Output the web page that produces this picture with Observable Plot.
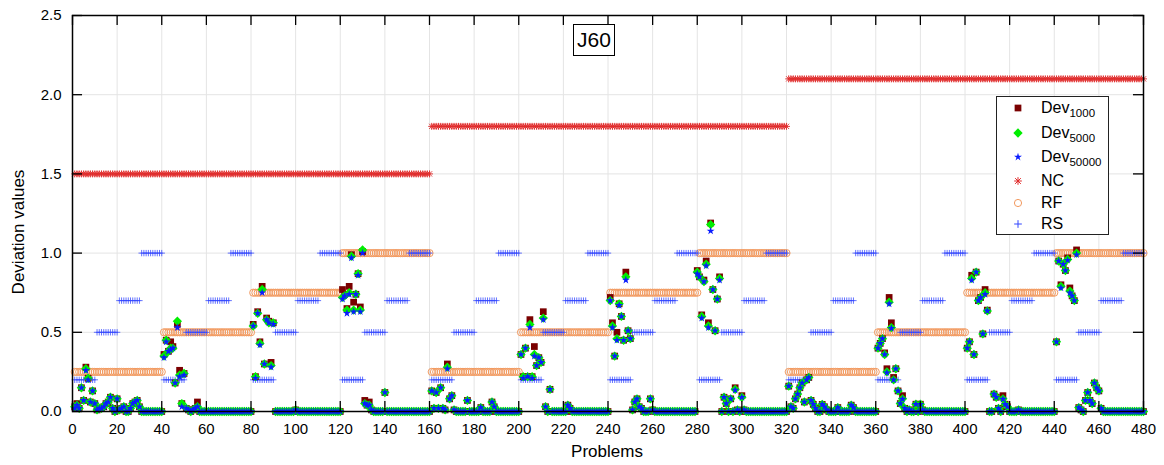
<!DOCTYPE html>
<html><head><meta charset="utf-8">
<script src="https://cdn.jsdelivr.net/npm/d3@7"></script>
<script src="https://cdn.jsdelivr.net/npm/@observablehq/plot@0.6"></script>
<style>
body{margin:0;background:#fff;font-family:"Liberation Sans",Arial,sans-serif;}
#wrap{position:relative;width:1164px;height:465px;overflow:hidden;}
#wrap svg{display:block;}
.ylab{position:absolute;left:19px;top:232px;transform:translate(-50%,-50%) rotate(-90deg);font-size:17px;white-space:nowrap;color:#000;}
.xlab{position:absolute;left:607px;top:452px;transform:translate(-50%,-50%);font-size:17px;color:#000;}
.title{position:absolute;left:573px;top:24px;width:40px;height:30px;border:1px solid #000;background:#fff;font-size:21px;line-height:30px;text-align:center;}
.legend{position:absolute;left:996px;top:96px;width:111px;height:137px;border:1px solid #222;background:#fff;}
.legend .row{position:absolute;left:0;height:22px;width:111px;}
.legend .row svg{position:absolute;left:11px;top:1px;}
.legend .row span{position:absolute;left:44px;top:0;font-size:16px;line-height:22px;white-space:nowrap;}
.legend sub{font-size:11.5px;vertical-align:-4px;line-height:0;}
</style></head><body>
<div id="wrap"></div>
<script>
// ---- data ----
const nProblems = 480;
const ncLevels = [1.5, 1.8, 2.1];            // NC per group of 160 problems
const rfLevels = [0.25, 0.5, 0.75, 1.0];     // RF per 40 problems within each 160
const rsLevels = [0.2, 0.5, 0.7, 1.0];       // RS per 10 problems within each 40
const xTicks = [0,20,40,60,80,100,120,140,160,180,200,220,240,260,280,300,320,340,360,380,400,420,440,460,480];
const yTicks = [0, 0.5, 1.0, 1.5, 2.0, 2.5];

// Problems with a non-zero deviation (all other problems are 0)
const devProblems = [1,2,3,4,5,6,7,8,9,10,11,12,13,14,15,16,17,18,20,21,22,23,26,27,28,29,30,
 41,42,43,44,45,46,47,48,49,50,51,52,54,55,56,
 81,82,83,84,85,86,87,88,89,90,100,
 121,122,123,124,125,126,127,128,129,130,131,132,133,134,140,
 161,162,163,164,165,166,167,168,169,170,171,177,183,188,189,
 201,202,203,204,205,206,207,208,209,210,211,212,214,222,223,
 241,242,243,244,245,246,247,248,249,250,251,252,253,254,255,259,260,
 280,281,282,283,284,285,286,287,288,289,290,292,293,295,297,298,300,301,
 321,322,323,324,325,326,327,328,329,330,331,332,333,336,337,338,343,349,350,
 361,362,363,364,365,366,367,368,369,370,371,372,373,375,378,380,381,
 401,402,403,404,405,406,407,408,409,410,413,414,415,417,418,419,424,
 441,442,443,444,445,446,447,448,449,450,451,452,454,455,456,457,458,459,460,461];
const dev1000 = [.03,.05,.02,.15,.07,.28,.21,.06,.13,.05,.01,.02,.02,.03,.05,.06,.09,.02,.08,.01,.02,.03,.02,.05,.06,.07,.03,
 .36,.45,.38,.44,.41,.18,.55,.26,.05,.24,.02,.01,.01,.02,.06,
 .55,.22,.63,.44,.79,.30,.59,.57,.31,.56,.01,
 .77,.74,.65,.79,.99,.69,.74,.87,.66,1.01,.07,.04,.06,.01,.12,
 .13,.02,.12,.02,.15,.02,.01,.30,.08,.10,.01,.07,.025,.06,.03,
 .36,.22,.40,.22,.58,.22,.41,.29,.34,.31,.63,.03,.14,.04,.02,
 .72,.56,.35,.50,.68,.60,.45,.88,.51,.46,.01,.06,.08,.03,.02,.08,.01,
 .89,.85,.61,.83,.95,.56,1.19,.77,.51,.71,.85,.09,.05,.08,.15,.01,.10,.01,
 .16,.03,.02,.08,.11,.15,.18,.06,.20,.215,.07,.045,.02,.045,.03,.01,.025,.04,.025,
 .40,.43,.46,.37,.27,.72,.56,.215,.27,.13,.05,.10,.02,.01,.046,.046,.01,
 .40,.44,.86,.36,.88,.70,.72,.49,.77,.64,.11,.09,.02,.10,.046,.03,.01,
 .44,.95,.80,.93,.89,.97,.78,.73,.70,1.02,.025,.01,.07,.12,.07,.05,.18,.15,.13,.02];
const dev5000 = [.03,.04,.02,.15,.07,.27,.21,.06,.13,.05,.01,.02,.02,.03,.05,.06,.09,.02,.08,.01,.02,.03,.02,.05,.06,.07,.03,
 .35,.45,.38,.40,.40,.18,.57,.23,.05,.24,.02,.01,.01,.02,.03,
 .54,.22,.62,.43,.77,.30,.58,.56,.29,.56,.01,
 .72,.73,.64,.75,.98,.64,.74,.87,.64,1.02,.05,.04,.04,.01,.12,
 .13,.02,.12,.02,.15,.02,.01,.28,.08,.10,.01,.07,.025,.06,.03,
 .36,.22,.40,.22,.55,.22,.36,.29,.34,.31,.59,.03,.14,.04,.02,
 .70,.54,.35,.46,.68,.60,.45,.85,.51,.46,.01,.06,.08,.03,.02,.08,.01,
 .88,.85,.60,.82,.93,.54,1.18,.77,.51,.71,.84,.09,.05,.08,.14,.01,.09,.01,
 .16,.03,.02,.08,.11,.15,.18,.06,.20,.215,.07,.045,.02,.045,.03,.01,.025,.04,.025,
 .40,.43,.46,.36,.25,.69,.53,.20,.27,.13,.05,.08,.02,.01,.046,.046,.01,
 .40,.44,.84,.36,.88,.70,.72,.49,.75,.635,.11,.09,.02,.08,.046,.03,.01,
 .44,.95,.79,.93,.89,.96,.76,.73,.70,1.00,.025,.01,.07,.12,.07,.05,.18,.15,.13,.02];
const dev50000 = [.02,.04,.02,.15,.07,.26,.20,.06,.13,.05,.01,.02,.02,.03,.05,.06,.09,.02,.08,.01,.02,.03,.02,.05,.06,.07,.03,
 .34,.44,.38,.39,.40,.18,.53,.22,.03,.23,.02,.01,.01,.02,.03,
 .54,.21,.62,.42,.75,.30,.58,.56,.28,.55,.01,
 .71,.73,.62,.74,.97,.63,.74,.86,.63,1.00,.05,.04,.04,.01,.12,
 .13,.02,.12,.02,.15,.02,.01,.27,.08,.10,.01,.07,.025,.06,.03,
 .36,.21,.40,.22,.53,.21,.35,.29,.34,.31,.58,.03,.14,.04,.02,
 .70,.53,.35,.45,.67,.60,.45,.83,.51,.46,.01,.06,.08,.03,.02,.08,.01,
 .87,.85,.59,.82,.92,.53,1.14,.77,.51,.71,.83,.09,.05,.08,.135,.01,.09,.01,
 .16,.03,.02,.08,.11,.15,.18,.06,.20,.215,.07,.045,.02,.045,.03,.01,.025,.04,.025,
 .40,.43,.46,.36,.245,.68,.525,.20,.27,.13,.05,.078,.02,.01,.046,.046,.01,
 .40,.44,.83,.36,.88,.70,.72,.49,.74,.635,.11,.09,.02,.078,.046,.03,.01,
 .44,.95,.78,.93,.89,.955,.75,.73,.70,.99,.025,.01,.07,.12,.07,.05,.18,.15,.13,.02];

// ---- build tables ----
const problems = d3.range(1, nProblems + 1);
const ncData = problems.map(p => ({p, v: ncLevels[Math.floor((p - 1) / 160)]}));
const rfData = problems.map(p => ({p, v: rfLevels[Math.floor(((p - 1) % 160) / 40)]}));
const rsData = problems.map(p => ({p, v: rsLevels[Math.floor(((p - 1) % 40) / 10)]}));
const idx = new Map(devProblems.map((p, i) => [p, i]));
const devData = problems.map(p => {
  const i = idx.get(p);
  return {p, d1: i === undefined ? 0 : dev1000[i], d2: i === undefined ? 0 : dev5000[i], d3: i === undefined ? 0 : dev50000[i]};
});

const C = {d1: "#7a0000", d2: "#00ee00", d3: "#0a1cff", nc: "#e02a2a", rf: "#f29a60", rs: "#3246ff"};

const chart = Plot.plot({
  width: 1164, height: 465,
  marginLeft: 72, marginRight: 21, marginTop: 15, marginBottom: 54,
  style: {fontFamily: "'Liberation Sans', Arial, sans-serif", fontSize: "15px", color: "#000", background: "#fff"},
  x: {domain: [0, 480]},
  y: {domain: [0, 2.5]},
  marks: [
    Plot.gridX(xTicks, {stroke: "#e4e4e4", strokeOpacity: 1}),
    Plot.gridY(yTicks, {stroke: "#e4e4e4", strokeOpacity: 1}),
    Plot.dot(ncData, {x: "p", y: "v", symbol: "plus", r: 2.4, stroke: C.nc, strokeWidth: 0.9}),
    Plot.dot(ncData, {x: "p", y: "v", symbol: "times", r: 2.5, stroke: C.nc, strokeWidth: 0.9}),
    Plot.dot(rfData, {x: "p", y: "v", symbol: "circle", r: 3.6, stroke: C.rf, fill: "none", strokeWidth: 1}),
    Plot.dot(rsData, {x: "p", y: "v", symbol: "plus", r: 2.2, stroke: C.rs, strokeOpacity: 0.75, strokeWidth: 1}),
    Plot.dot(devData, {x: "p", y: "d1", symbol: "square", r: 3.8, fill: C.d1}),
    Plot.dot(devData, {x: "p", y: "d2", symbol: "diamond2", r: 4.2, fill: C.d2}),
    Plot.dot(devData, {x: "p", y: "d3", symbol: "star", r: 2.5, fill: C.d3}),
    Plot.ruleX(xTicks, {x: d => d, y1: 0, y2: 0.063, stroke: "#000", strokeWidth: 1.3}),
    Plot.ruleX(xTicks, {x: d => d, y1: 2.437, y2: 2.5, stroke: "#000", strokeWidth: 1.3}),
    Plot.ruleY(yTicks, {y: d => d, x1: 0, x2: 4.5, stroke: "#000", strokeWidth: 1.3}),
    Plot.ruleY(yTicks, {y: d => d, x1: 475.5, x2: 480, stroke: "#000", strokeWidth: 1.3}),
    Plot.frame({stroke: "#000", strokeWidth: 1.5}),
    Plot.axisX(xTicks, {tickSize: 0, tickPadding: 12, label: null, fontSize: 15}),
    Plot.axisY(yTicks, {tickSize: 0, tickPadding: 11, label: null, tickFormat: d3.format(".1f"), fontSize: 15})
  ]
});
const wrap = document.getElementById("wrap");
wrap.appendChild(chart);

function addDiv(cls, html) { const d = document.createElement("div"); d.className = cls; d.innerHTML = html; wrap.appendChild(d); return d; }
addDiv("ylab", "Deviation values");
addDiv("xlab", "Problems");
addDiv("title", "J60");

// legend
const legend = addDiv("legend", "");
const items = [
  {label: "Dev<sub>1000</sub>", top: 0, draw: g => g.append("path").attr("d", d3.symbol(d3.symbolSquare, Math.PI * 3.8 * 3.8)()).attr("fill", C.d1)},
  {label: "Dev<sub>5000</sub>", top: 25, draw: g => g.append("path").attr("d", d3.symbol(d3.symbolDiamond2, Math.PI * 4.2 * 4.2)()).attr("fill", C.d2)},
  {label: "Dev<sub>50000</sub>", top: 49, draw: g => g.append("path").attr("d", d3.symbol(d3.symbolStar, Math.PI * 2.5 * 2.5)()).attr("fill", C.d3)},
  {label: "NC", top: 73, draw: g => { g.append("path").attr("d", d3.symbol(d3.symbolPlus, Math.PI * 2.6 * 2.6)()).attr("stroke", C.nc).attr("fill", "none"); g.append("path").attr("d", d3.symbol(d3.symbolTimes, Math.PI * 2.7 * 2.7)()).attr("stroke", C.nc).attr("fill", "none"); }},
  {label: "RF", top: 95, draw: g => g.append("circle").attr("r", 3.6).attr("stroke", C.rf).attr("fill", "none")},
  {label: "RS", top: 116, draw: g => g.append("path").attr("d", d3.symbol(d3.symbolPlus, Math.PI * 2.6 * 2.6)()).attr("stroke", C.rs).attr("fill", "none")}
];
for (const it of items) {
  const row = document.createElement("div");
  row.className = "row"; row.style.top = it.top + "px";
  legend.appendChild(row);
  const svg = d3.select(row).append("svg").attr("width", 20).attr("height", 20);
  const g = svg.append("g").attr("transform", "translate(10,10)");
  it.draw(g);
  const s = document.createElement("span"); s.innerHTML = it.label; row.appendChild(s);
}
</script>
</body></html>
